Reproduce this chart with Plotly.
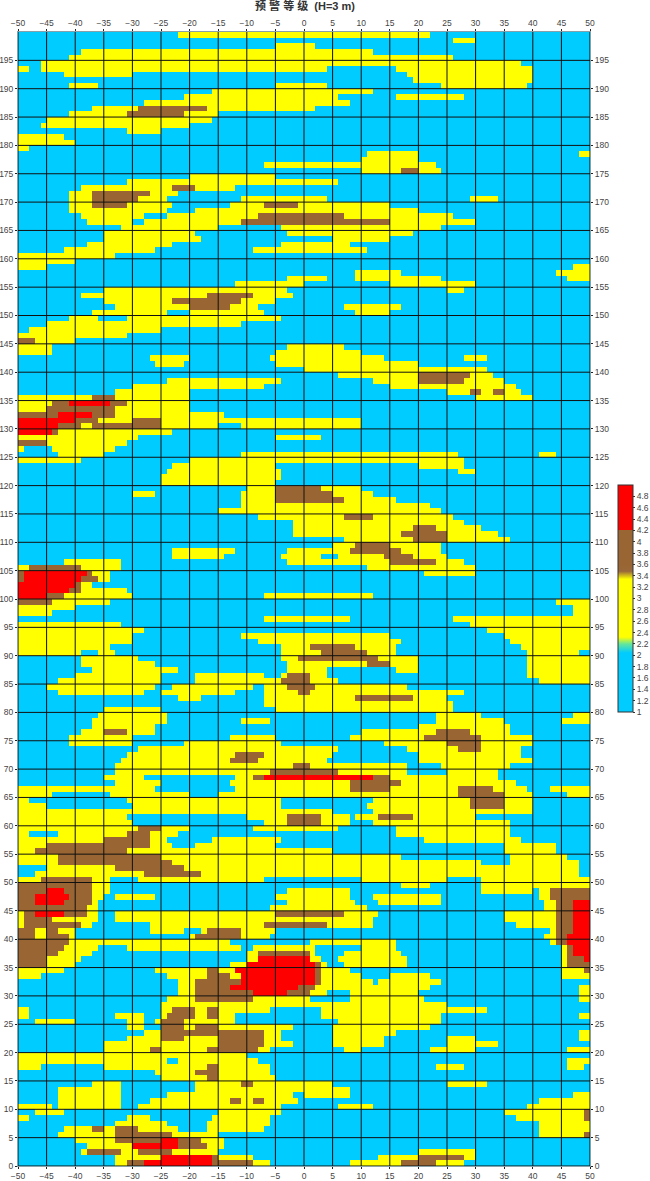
import plotly.graph_objects as go

# Each row: top edge of a 1-unit band, then runs (level letter + x where the run starts)
ROWS = [
"200 b-50 y-22 b22","199 b-50 y26 b30","198 b-50 y-5 b2","197 b-50 y-39 b12","196 b-50 y-41 b26",
"195 b-50 y-46 b38","194 y-50 b-48 y-46 b4 y16 b40","193 b-50 y-42 b-30 y18 b40","192 b-50 y19 b40",
"191 b-50 y-41 b-36 y-5 b4 y24 b39","190 b-50 y-16 b12","189 b-50 y-21 b6 y16 b28","188 b-50 y-28 b8",
"187 b-50 y-37 m-29 y-17 b2","186 b-50 y-41 m-31 y-21 b-15","185 b-50 y-45 b-16","184 b-50 y-46 b-20",
"183 b-50 y-31 b-25","182 y-50 b-42","181 y-50 b-40","180 y-50 b-48","179 b-50 y11 b20 y48",
"178 b-50 y10 b20","177 b-50 y-7 b23","176 b-50 y10 m17 y20 b24","175 b-50 y-20 b-5","174 b-50 y-31 b6",
"173 b-50 y-39 m-23 y-19 b-12","172 b-50 y-41 m-37 y-27 b-22","171 b-50 y-41 m-37 y-29 b-24 y-11 b4 y29 b34",
"170 b-50 y-41 m-37 y-31 b-23 y-13 m-7 y-1 b15","169 b-50 y-41 b-24 y-19 b20","168 b-50 y-39 b-28 y-24 m-8 y7 b26",
"167 b-50 y-38 b-30 y-28 m-11 y15 b30","166 b-50 y-32 b-15 y-4 b24","165 b-50 y-35 b-19 y-3 b19",
"164 b-50 y-35 b-18 y5 b15","163 b-50 y-38 b-23 y-4 b8","162 b-50 y-42 b-26 y-9 b11","161 y-50 b-33",
"160 y-50 b-40","159 y-50 b-45 y47","158 b-50 y9 b17 y44","157 b-50 y-3 b4 y9 b24 y46",
"156 b-50 y-12 b0 y15 b30","155 b-50 y-35 b-3 y25 b28","154 b-50 y-39 m-17 y-9 b-2","153 b-50 y-35 m-23 y-11 b-5",
"152 b-50 y-33 m-20 y-13 b-8 y7 b17","151 b-50 y-37 b-24 y-20 b-7 y9 b15","150 b-50 y-41 b-36 y-31 b-4",
"149 b-50 y-45 b-11","148 b-50 y-48 b-25","147 y-50 b-31","146 m-50 y-47 b-40","145 y-50 b-44 y-3 b7",
"144 y-50 b-44 y-5 b10","143 b-50 y-27 b-20 y-6 b14 y28 b32","142 b-50 y-26 b-21 y-5 b20","141 b-50 y0 b32",
"140 b-50 y6 m20 y29 b33","139 b-50 y-24 b-4 y12 m20 y28 b35","138 b-50 y-30 b-7 y15 b37",
"137 b-50 y-33 b-20 y25 m29 y31 m33 y35 b38","136 y-50 m-37 y-33 b-20 y30 b40","135 y-50 m-44 r-41 m-34 y-31 b-20",
"134 y-50 m-45 y-33 b-20","133 m-50 r-43 m-37 y-33 b-14","132 r-50 m-40 y-36 m-30 y-25 b10",
"131 r-50 m-43 y-39 m-37 y-25 b-15 y-11 b10","130 r-50 m-44 y-43 b-23","129 y-50 b-29 y-5 b3","128 m-50 y-45 b-31",
"127 y-50 b-49 y-44 b-33","126 b-50 y-43 b-35 y-11 b27 y41 b44","125 y-50 b-39 y-20 b28","124 b-50 y-23 b-5 y20 b28",
"123 b-50 y-24 b-4 y27 b30","122 b-50 y-25 b-4","121 b-50 y-25 b-5","120 b-50 y-10 m-5 y3 b10",
"119 b-50 y-30 b-26 y-11 m-5 y5 b12","118 b-50 y-11 m-5 y7 b16","117 b-50 y-11 b22","116 b-50 y-15 b24",
"115 b-50 y-8 m7 y12 b26","114 b-50 y-2 b28","113 b-50 y-2 m19 y23 b31","112 b-50 y-2 m17 y25 b34",
"111 b-50 y7 m19 y25 b36","110 b-50 y5 m9 y15 b24","109 b-50 y-23 b-12 y-3 m8 y17 b24",
"108 b-50 y-23 b-14 y-4 b3 y6 m14 y19 b25","107 b-50 y-42 b-32 y-3 m15 y23 b28","106 y-50 m-48 y-39 b-32 y11 b30",
"105 m-50 r-49 m-38 y-37 b-34 y21 b30","104 m-50 r-49 m-39 y-36 b-34","103 r-50 m-40 y-39 b-37",
"102 r-50 m-41 y-39 b-31","101 r-50 m-45 y-42 b-30 y-7 b12","100 m-50 y-44 b-34 y44","99 y-50 b-40 y47",
"98 y-50 b-44 y47","97 b-50 y-7 b8 y26","96 y-50 b-32 y29","95 y-50 b-28 y32","94 y-50 b-30 y-11 b15 y35",
"93 y-50 b-30 y-8 b17 y36","92 y-50 b-34 y-4 m1 y9 b16 y38","91 y-50 b-39 y-36 b-33 y-4 m3 y11 b16 y39 b48",
"90 b-50 y-39 b-29 y-4 m-1 y13 b20 y39","89 b-50 y-39 b-26 y-3 m11 y15 b20 y39","88 b-50 y-37 b-22 y-3 b4 y16 b20 y39",
"87 b-50 y-40 b-25 y-19 b-7 y-4 m-3 y1 b4 y39","86 b-50 y-43 b-25 y-19 m-4 y1 b6 y41","85 b-50 y-45 b-26 y-23 b-9 y-7 m-3 y2 b18",
"84 b-50 y-43 b-28 y-25 b-12 y-7 m-1 y1 b28","83 b-50 y-22 b-18 y-7 m9 y19 b25","82 b-50 y-7 b26",
"81 b-50 y-35 b-25 y-5 b26","80 b-50 y-36 b-24 y23 b31 y47","79 b-50 y-37 b-24 y-11 b-6 y23 b35 y45",
"78 b-50 y-37 b-26 y20 b36","77 b-50 y-39 m-35 y-31 b-26 y10 m23 y29 b36","76 b-50 y-41 b-30 y-13 b-5 y8 m21 y31 b40",
"75 b-50 y-41 b-30 y-21 b-4 y14 m25 y31 b40","74 b-50 y-29 b6 y18 m27 y31 b38","73 b-50 y-31 m-12 y-7 b5 y20 b38",
"72 b-50 y-32 m-13 y-8 b4 y20 b40","71 b-50 y-33 m-2 y1 b18 y24 b36","70 b-50 y-33 m-6 y6 b18 y25 b34",
"69 b-50 y-35 b-28 y-12 m-9 r-7 m12 y15 b34","68 b-50 y-33 b-25 y-13 m8 y17 b37","67 y-50 b-26 y-12 m8 y15 m27 y33 b39 y43",
"66 y-50 b-44 y-34 b-20 y-15 m27 y35 b40 y46","65 y-50 b-48 y-31 b-4 y12 m29 y35 b40","64 y-50 b-45 y-30 b-4 y11 m29 y35 b40",
"63 y-50 b5 y12 b40","62 y-50 b-31 y-10 m-3 y3 b8 y9 m13 y19 b30","61 y-50 b-30 y-7 m-3 y3 b8 y12 b36",
"60 y-50 m-29 y-25 b-20 y-9 b6 y16 b36","59 y-50 b-48 y-43 m-31 y-27 b-22 y16 b36","58 y-50 m-35 y-27 b-24 y-16 b-4 y21 b38",
"57 y-50 m-45 y-27 b-23 y-19 b-5 y35 b44","56 y-50 m-47 y-31 b5 y35 b44","55 y-50 m-43 y-25 b17 y36 b46",
"54 y-50 m-43 y-23 b31 y36 b48","53 b-50 y-45 m-33 y-21 b48","52 b-50 y-47 m-28 y-18 b48",
"51 y-50 m-46 y-37 b-34 y-29 b-7 y10 b25 y31","50 m-50 y-37 b-34 y17 b22 y31","49 m-50 r-45 m-42 y-37 b-34 y-3 b8 y31 b40 y41 m43",
"48 m-50 r-47 m-41 y-37 b-35 y-33 b-26 y-5 b8 y12 b24 y41 m43","47 m-50 r-47 m-42 y-37 b-36 y-3 b9 y13 b24 y42 m44 r47",
"46 m-50 y-38 b-36 y-6 b11 y42 m44 r47","45 y-50 m-49 r-47 m-42 y-38 b-36 y-33 m-5 y7 b13 y35 m44 r47",
"44 y-50 m-49 y-44 b-36 y-33 b12 y35 m44 r47","43 y-50 m-49 y-39 b-37 y-27 m-7 y4 b12 y37 m44 r47",
"42 m-50 y-47 m-45 y-43 b-40 y-27 b-21 y-18 m-17 y-11 b-5 y43 m44 r47","41 m-50 y-47 m-45 y-41 b-40 y-20 m-19 y-11 b-6 y42 m44 r46",
"40 m-50 y-41 b-13 y1 b16 y43 m44 r46","39 m-50 y-42 b-36 y-31 b-11 y-9 b2 y10 b16 y45 m46 r47",
"38 m-50 y-43 b-37 y-10 m-8 y1 b2 y7 b17 y45 m46 r47","37 m-50 y-45 b-39 y-10 r-8 m1 y1 b3 y6 b18 y45 m46 r49",
"36 m-50 y-45 b-40 y-13 r-10 m2 y3 b4 y7 b18 y45 m46","35 y-50 b-42 y-26 m-17 y-15 r-12 m2 y3 b8 y45 m49",
"34 y-50 b-46 y-24 m-17 y-13 r-11 r2 m2 y3 b10 y15 b22 y45","33 b-50 y-22 m-19 r-11 m2 y3 b12 y13 b24",
"32 b-50 y-22 m-19 r-13 m-1 y2 b22 y48","31 b-50 y-22 m-19 r-9 m-3 y1 b4 y8 b20 y48","30 b-50 y-24 m-19 y-9 b1 y8 b21 y48",
"29 b-50 y-25 b25","28 y-50 b-48 y-25 m-23 y-19 m-17 y-15 b-6 y3 b32",
"27 y-50 b-48 y-33 b-28 y-25 m-24 y-19 m-17 y-15 b-12 y3 b24 y48","26 b-50 y-47 b-40 y-31 b-28 y-26 m-25 y-21 b-12 y6 b24",
"25 b-50 y-31 b-28 y-25 m-25 y-21 m-19 y-15 b-2 y5 b22","24 b-50 y-28 m-25 y-7 b-4 y5 b16 y48",
"23 b-50 y-31 m-25 y-21 m-15 y-7 b-4 y5 b14 y25 b30 y48","22 b-50 y-35 m-15 y-7 b-2 y5 b14 y25 b34",
"21 b-50 y-35 m-27 y-25 m-17 y-8 b-6 y7 b10 y22 b30 y46","20 y-50 b-10","19 y-50 b-24 y-22 b-8 y46",
"18 y-50 b-46 y-35 m-17 y-15 b-6 y23 b28 y46 b49","17 b-50 y-26 m-19 y-15 b-6","16 b-50 y-25 m-17 y-15 b-5",
"15 b-50 y-37 b-32 y-19 m-11 y-9 b5 y25 b32","14 b-50 y-43 b-32 y-19 b8","13 b-50 y-43 b-32 y-24 b-2 y0 b8 y47",
"12 b-50 y-43 b-32 y-27 m-13 y-11 m-9 y-7 b-1 y41","11 y-50 b-44 y-43 b-32 y-29 b-4 y6 b12 y39",
"10 b-50 y-47 b-42 y-15 b-4 y35 m49","9 y-50 b-48 y-31 b-27 y-16 b-6 y37 m49","8 b-50 y-33 b-24 y-17 b-6 y41",
"7 b-50 y-42 m-37 y-35 m-33 y-29 b-22 y-17 b-7 y41","6 b-50 y-43 m-33 y-23 b-15 y41 m49","5 b-50 y-40 m-33 r-25 m-22 y-18 b-14",
"4 b-50 y-38 r-30 m-22 y-17 b-14","3 b-50 y-39 m-38 y-32 m-29 y-23 b-15 y20 b30","2 b-50 y-33 r-25 m-16 y-15 b-9 y13 m20 y28 b30",
"1 b-50 y-33 m-31 r-28 m-16 y-9 b-6 y8 m17 y23 b28",
]

LEVELS = {"b": 1.0, "y": 3.0, "m": 3.9, "r": 5.0}
X_TICKS = list(range(-50, 51, 5))
Y_TICKS = list(range(0, 200, 5))
CBAR_TICKS = [round(1 + 0.2 * i, 1) for i in range(20)]
CBAR_LABELS = ["1","1.2","1.4","1.6","1.8","2","2.2","2.4","2.6","2.8","3","3.2","3.4","3.6","3.8","4","4.2","4.4","4.6","4.8"]
TITLE = "预 警 等 级  (H=3 m)"

COLORSCALE = [
    [0.0, "#00CCFF"], [0.26, "#00CCFF"], [0.30, "#66E699"], [0.33, "#FFFF00"],
    [0.585, "#FFFF00"], [0.62, "#99683A"], [0.645, "#996633"], [0.80, "#996633"],
    [0.80, "#FF0000"], [1.0, "#FF0000"],
]

parsed = {}
for line in ROWS:
    parts = line.split()
    runs = [(p[0], int(p[1:])) for p in parts[1:]]
    parsed[int(parts[0])] = runs

z = []
for top in range(1, 201):
    runs = parsed[top]
    row = []
    for cell in range(-50, 50):
        lev = runs[0][0]
        for letter, start in runs:
            if start <= cell:
                lev = letter
        row.append(LEVELS[lev])
    z.append(row)

fig = go.Figure()
fig.add_trace(go.Heatmap(
    z=z, x=list(range(-50, 51)), y=list(range(0, 201)),
    zmin=1, zmax=5, colorscale=COLORSCALE, zsmooth=False,
    colorbar=dict(
        x=(618-18)/572, xanchor="left", xpad=0, ypad=0,
        y=(1166-712)/1134, yanchor="bottom", lenmode="pixels", len=227,
        thicknessmode="pixels", thickness=15, outlinecolor="#333333", outlinewidth=1,
        tickmode="array", tickvals=CBAR_TICKS, ticktext=CBAR_LABELS, ticks="outside",
        ticklen=2, tickcolor="#333333", tickfont=dict(family="Liberation Sans", size=8.5, color="#444444"),
    ),
))
fig.add_trace(go.Scatter(x=[-50, 50], y=[0, 200], xaxis="x2", yaxis="y2", mode="markers",
                         marker=dict(opacity=0), showlegend=False, hoverinfo="skip"))

tick_style = dict(ticks="outside", ticklen=2, tickcolor="#222222", tickwidth=1,
                  tickfont=dict(family="Liberation Sans", size=8.5, color="#444444"),
                  showgrid=False, zeroline=False, showline=True, linecolor="#8aa0a8", linewidth=1)
fig.update_layout(
    width=650, height=1181, autosize=False,
    margin=dict(l=18, r=60, t=32, b=15, autoexpand=False),
    paper_bgcolor="white", plot_bgcolor="white", showlegend=False,
    title=dict(text=TITLE, x=305/650, xanchor="center", y=1-6/1181, yanchor="middle",
               font=dict(family="Liberation Sans, Noto Sans CJK SC", size=11, color="#333333", weight="bold")),
    xaxis=dict(range=[-50, 50], tickmode="array", tickvals=X_TICKS, side="bottom", **tick_style),
    xaxis2=dict(range=[-50, 50], tickmode="array", tickvals=X_TICKS, side="top", overlaying="x", anchor="y", **tick_style),
    yaxis=dict(range=[0, 200], tickmode="array", tickvals=Y_TICKS, side="left", **tick_style),
    yaxis2=dict(range=[0, 200], tickmode="array", tickvals=Y_TICKS, side="right", overlaying="y", anchor="x", **tick_style),
)
for v in X_TICKS:
    fig.add_shape(type="line", x0=v, x1=v, y0=0, y1=200, xref="x", yref="y", layer="above",
                  line=dict(color="#101010", width=1))
for v in Y_TICKS:
    fig.add_shape(type="line", x0=-50, x1=50, y0=v, y1=v, xref="x", yref="y", layer="above",
                  line=dict(color="#101010", width=1))

fig.write_html("out.html", config={"displayModeBar": False},
               post_script="document.body.style.margin='0';document.body.style.padding='0';")
